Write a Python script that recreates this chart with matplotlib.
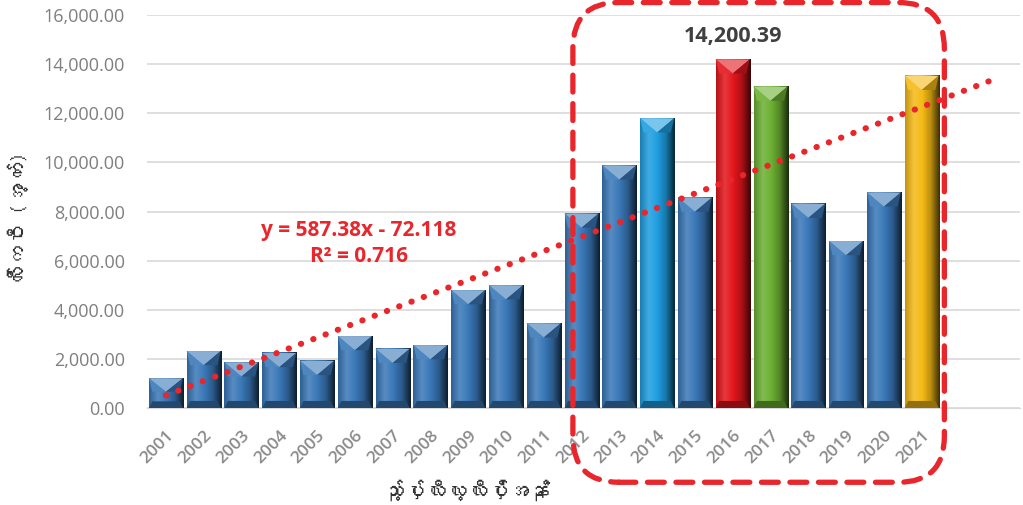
import numpy as np
import matplotlib
matplotlib.use("Agg")
import matplotlib.pyplot as plt
from matplotlib import font_manager, ft2font
from matplotlib.colors import LinearSegmentedColormap, to_rgb
from matplotlib.patches import Polygon, FancyBboxPatch

years = [str(y) for y in range(2001, 2022)]
area = [1210, 2320, 1860, 2240, 1920, 2930, 2410, 2560, 4800, 5000, 3450,
        7920, 9880, 11800, 8570, 14200.39, 13090, 8320, 6800, 8780, 13530]
bar_colors = ['#3a78b8'] * 13 + ['#1f9ee0', '#3a78b8', '#e3161c', '#6cb033',
                                 '#3a78b8', '#3a78b8', '#3a78b8', '#f5ba16']
slope, intercept, r2 = 587.38, -72.118, 0.716
forecast = 2
highlight_idx = 15
box_from, box_to = 11, 20  # highlighted years (index)

xlabel = "သ့ၣ်ပှၢ်လီၤလ့ၤလီၤပှိၢ်အနံၣ်"
ylabel = "လီၢ်ကဝီၤ (အ့ကၢ်)"


def find_font(ch):
    for f in font_manager.fontManager.ttflist:
        try:
            if ord(ch) in ft2font.FT2Font(f.fname).get_charmap():
                return f.name
        except Exception:
            pass
    return None


mm_font = find_font("က")
mm_family = [mm_font, 'DejaVu Sans'] if mm_font else ['DejaVu Sans']

plt.rcParams['font.family'] = ['Open Sans', 'DejaVu Sans']

fig = plt.figure(figsize=(10.23, 5.05), dpi=100)
ax = fig.add_axes([0.1437, 0.192, 0.8533, 0.778])

x = np.arange(1, len(years) + 1)
bars = ax.bar(x, area, width=0.9, color=bar_colors, zorder=2)


def mix(c, other, t):
    c = np.array(to_rgb(c))
    return tuple(c * (1 - t) + np.array(other) * t)


ymax = 16000
depth = ymax * 0.036
for b, c in zip(bars, bar_colors):
    x0, w, top = b.get_x(), b.get_width(), b.get_height()
    x1, xc = x0 + w, x0 + w / 2
    b.set_alpha(0)
    cmap = LinearSegmentedColormap.from_list(
        'g', [mix(c, (0, 0, 0), 0.2), mix(c, (1, 1, 1), 0.15), c,
              mix(c, (0, 0, 0), 0.25), mix(c, (0, 0, 0), 0.75)])
    grad = np.linspace(0, 1, 64).reshape(1, -1)
    ax.imshow(grad, extent=[x0, x1, 0, top], aspect='auto', cmap=cmap,
              zorder=2, interpolation='bilinear')
    d = min(depth, top * 0.45)
    ax.add_patch(Polygon([(x0, top), (x1, top), (xc, top - d)],
                         color=mix(c, (1, 1, 1), 0.4), zorder=3, lw=0))
    ax.add_patch(Polygon([(x0, top), (xc, top - d), (x0 + w * 0.1, top - d)],
                         color=mix(c, (1, 1, 1), 0.1), zorder=3, lw=0))
    ax.add_patch(Polygon([(x1, top), (xc, top - d), (x1 - w * 0.1, top - d)],
                         color=mix(c, (0, 0, 0), 0.3), zorder=3, lw=0))
    ax.add_patch(Polygon([(x0, 0), (x1, 0), (x1 - w * 0.1, d * 0.5),
                          (x0 + w * 0.1, d * 0.5)],
                         color=mix(c, (0, 0, 0), 0.4), zorder=3, lw=0))

# linear trendline with forward forecast
tx = np.linspace(1, len(years) + forecast, 200)
ax.plot(tx, slope * tx + intercept, color='#e8262b', lw=4.4,
        linestyle=(0, (0.05, 2.1)), dash_capstyle='round', zorder=4)
ax.text(6.1, 7250, f"y = {slope}x - {abs(intercept)}", color='#e8262b',
        fontsize=15, fontweight='bold', ha='center', va='center', zorder=5)
ax.text(6.1, 6180, f"R² = {r2}", color='#e8262b',
        fontsize=15, fontweight='bold', ha='center', va='center', zorder=5)

ax.text(x[highlight_idx], area[highlight_idx] + 500,
        f"{area[highlight_idx]:,.2f}", color='#404040', fontsize=15.5,
        fontweight='bold', ha='center', va='bottom')

ax.set_xlim(0.5, 23.6)
ax.set_ylim(0, ymax)
ax.set_yticks(np.arange(0, ymax + 1, 2000))
ax.set_yticklabels([f"{v:,.2f}" for v in np.arange(0, ymax + 1, 2000)],
                   color='#7f7f7f', fontsize=13)
ax.set_xticks(x)
ax.set_xticklabels(years, rotation=45, ha='right', va='top',
                   rotation_mode='anchor', color='#8a8a8a', fontsize=12.5,
                   fontweight='semibold')
ax.tick_params(length=0)
ax.tick_params(axis='y', pad=16)
ax.tick_params(axis='x', pad=14)
ax.grid(axis='y', color='#d9d9d9', lw=1.2, zorder=0)
for s in ['top', 'right', 'left']:
    ax.spines[s].set_visible(False)
ax.spines['bottom'].set_color('#d9d9d9')

fig.text(0.018, 0.565, ylabel, rotation=90, ha='center', va='center',
         fontsize=15, family=mm_family, color='#333333')
fig.text(0.456, 0.03, xlabel, ha='center', va='center',
         fontsize=15, family=mm_family, color='#333333')

# dashed rounded box around the recent years
fig.canvas.draw()
to_fig = ax.transData + fig.transFigure.inverted()
(bx0, _), (bx1, _) = to_fig.transform([(box_from + 0.77, 0), (box_to + 1.6, 0)])
by0, by1 = 0.045, 0.995
box = FancyBboxPatch((bx0, by0), bx1 - bx0, by1 - by0,
                     boxstyle='round,pad=0,rounding_size=0.045',
                     mutation_aspect=1023 / 505, transform=fig.transFigure,
                     fill=False, edgecolor='#e8262b', lw=3.8,
                     linestyle=(0, (3.2, 2.2)), capstyle='round', zorder=10)
fig.add_artist(box)

fig.savefig('out.png', dpi=100)
